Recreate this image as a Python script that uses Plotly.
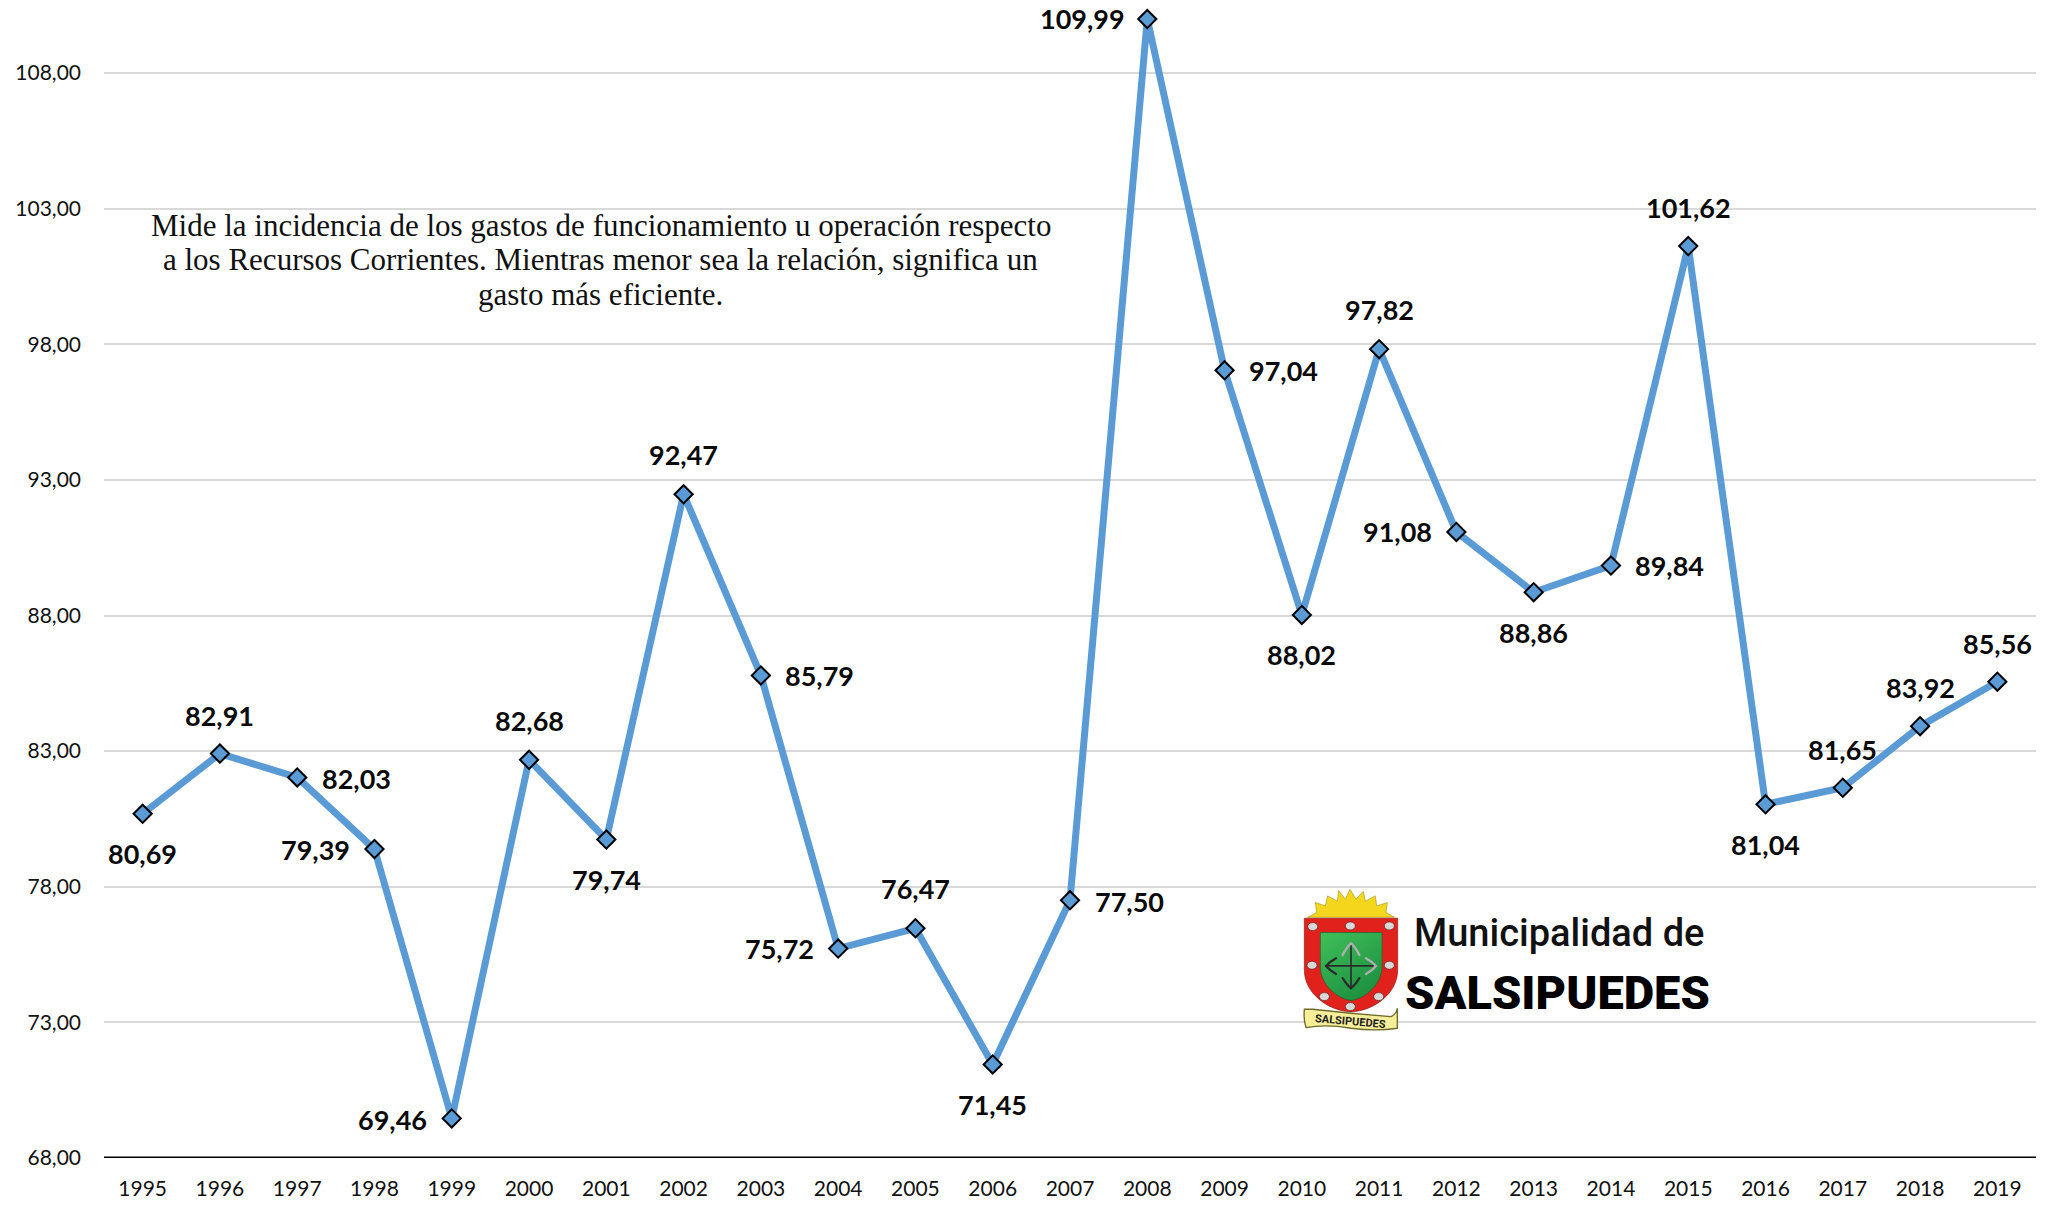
import base64
import plotly.graph_objects as go

years = [str(y) for y in [1995,1996,1997,1998,1999,2000,2001,2002,2003,2004,2005,2006,2007,2008,2009,2010,2011,2012,2013,2014,2015,2016,2017,2018,2019]]
values = [80.69,82.91,82.03,79.39,69.46,82.68,79.74,92.47,85.79,75.72,76.47,71.45,77.50,109.99,97.04,88.02,97.82,91.08,88.86,89.84,101.62,81.04,81.65,83.92,85.56]
label_dx = [0,0,59,-59,-59,0,0,0,59,-59,0,0,59,-65,59,0,0,-59,0,59,0,0,0,0,0]
label_dy = [40,-38,1,0,1,-39,40,-40,0,0,-40,40,1,-1,0,40,-40,0,40,0,-39,40,-38,-39,-38]
note_lines = ["Mide la incidencia de los gastos de funcionamiento u operación respecto",
              "a los Recursos Corrientes. Mientras menor sea la relación, significa un",
              "gasto más eficiente."]
note_y = [225, 259, 294]

W, H = 2055, 1208
L, R, T, B = 104, 2036.5, 0, 1157.7
Y_MIN, PX_PER_UNIT = 68, 27.117
Y_MAX = Y_MIN + (B - T) / PX_PER_UNIT

fig = go.Figure(go.Scatter(
    x=years, y=values, mode="lines+markers", cliponaxis=False,
    line=dict(color="#5B9BD5", width=7),
    marker=dict(symbol="diamond", size=14, color="#5B9BD5", line=dict(color="#000000", width=2)),
    hoverinfo="skip"))

for i, (v, dx, dy) in enumerate(zip(values, label_dx, label_dy)):
    fig.add_annotation(x=i, y=v, xref="x", yref="y", text=f"{v:.2f}".replace(".", ","),
                       showarrow=False, xshift=dx, yshift=-dy, xanchor="center", yanchor="middle",
                       font=dict(family="Lato", size=27, color="#0a0a0a", weight="bold"))

def px(X): return (X - L) / (R - L)
def py(Y): return 1 - (Y - T) / (B - T)

for line, yy in zip(note_lines, note_y):
    fig.add_annotation(xref="paper", yref="paper", x=px(601), y=py(yy), text=line,
                       showarrow=False, align="center", xanchor="center", yanchor="middle",
                       font=dict(family="Liberation Serif", size=31, color="#111111"))

# municipal emblem (coordinates local to the emblem's own drawing)
emblem = """<svg xmlns="http://www.w3.org/2000/svg" width="290" height="430" viewBox="130 88 290 430">
<defs><linearGradient id="g" x1="0" y1="0" x2="0.6" y2="1"><stop offset="0" stop-color="#3fc05a"/><stop offset="1" stop-color="#1f9040"/></linearGradient>
<filter id="b"><feGaussianBlur stdDeviation="1.5"/></filter></defs>
<g filter="url(#b)">
<path d="M145 172 L172 158 L168 128 L198 138 L205 108 L234 124 L238 92 L258 118 L272 88 L290 118 L312 94 L318 124 L348 108 L352 138 L384 128 L380 158 L405 172 Z" fill="#F4D61E" stroke="#a89a20" stroke-width="2"/>
<path d="M135 175 H415 V330 C415 400 345 452 275 456 C205 452 135 400 135 330 Z" fill="#E1231F" stroke="#8c1a18" stroke-width="2"/>
<path d="M183 218 H368 V320 C368 372 320 415 275 422 C230 415 183 372 183 320 Z" fill="url(#g)" stroke="#17602a" stroke-width="2"/>
<g stroke="#2c2c2c" stroke-width="7" fill="none" stroke-linecap="round">
<path d="M275 250 V385 M200 318 H350" stroke-width="5"/>
<path d="M250 285 Q262 262 275 250 Q288 262 300 285" stroke="#b0b0b0"/>
<path d="M250 355 Q262 375 275 385 Q288 375 300 355"/>
<path d="M230 295 Q212 305 200 318 Q212 332 230 342"/>
<path d="M320 295 Q338 305 350 318 Q338 332 320 342" stroke="#b0b0b0"/>
</g>
<g fill="#d8d8d8" stroke="#5a1a1a" stroke-width="2">
<ellipse cx="160" cy="200" rx="15" ry="12"/><ellipse cx="273" cy="198" rx="15" ry="12"/><ellipse cx="390" cy="198" rx="15" ry="12"/>
<ellipse cx="158" cy="316" rx="15" ry="12"/><ellipse cx="390" cy="316" rx="15" ry="12"/>
<ellipse cx="195" cy="410" rx="15" ry="12"/><ellipse cx="358" cy="410" rx="15" ry="12"/><ellipse cx="273" cy="440" rx="15" ry="12"/>
</g>
<path d="M135 448 L160 448 Q280 462 395 470 Q412 462 414 445 V505 Q350 515 275 505 Q200 492 140 503 Q132 480 135 448 Z" fill="#F7EE9A" stroke="#6d6a2a" stroke-width="4"/>
</g></svg>"""
fig.add_layout_image(source="data:image/svg+xml;base64," + base64.b64encode(emblem.encode()).decode(),
                     xref="paper", yref="paper", x=px(1303), y=py(889), sizex=(290/3)/(R-L), sizey=(430/3)/(B-T),
                     xanchor="left", yanchor="top", sizing="stretch", layer="above")

fig.add_annotation(xref="paper", yref="paper", x=px(1351), y=py(1021), text="SALSIPUEDES", textangle=5, showarrow=False,
                   xanchor="center", yanchor="middle",
                   font=dict(family="Roboto", size=11, color="#222222", weight="bold"))
fig.add_annotation(xref="paper", yref="paper", x=px(1559), y=py(933), text="Municipalidad de", showarrow=False,
                   xanchor="center", yanchor="middle",
                   font=dict(family="Roboto", size=38, color="#111111", weight=500))
fig.add_annotation(xref="paper", yref="paper", x=px(1558), y=py(992), text="SALSIPUEDES", showarrow=False,
                   xanchor="center", yanchor="middle",
                   font=dict(family="Roboto", size=47, color="#000000", weight=900))

# baseline drawn centred on the axis minimum
fig.add_shape(type="line", xref="paper", yref="y", x0=0, x1=1, y0=Y_MIN, y1=Y_MIN,
              line=dict(color="#000000", width=3), layer="above")

fig.update_layout(
    width=W, height=H, autosize=False, showlegend=False,
    margin=dict(l=L, r=W-R, t=T, b=H-B, pad=0),
    paper_bgcolor="white", plot_bgcolor="white", separators=",.",
    xaxis=dict(type="category", range=[-0.5, 24.5], showgrid=False, zeroline=False, showline=False,
               ticks="", tickfont=dict(family="Lato", size=21, color="#111111"), ticklabelstandoff=16),
    yaxis=dict(range=[Y_MIN, Y_MAX], tick0=68, dtick=5, tickformat=".2f", showgrid=True, gridcolor="#D9D9D9",
               gridwidth=2, zeroline=False, showline=False, ticks="",
               tickfont=dict(family="Lato", size=21, color="#111111"), ticklabelstandoff=22),
)
fig.write_html("out.html", post_script="document.body.style.margin='0';document.body.style.overflow='hidden';",
               config={"displayModeBar": False})
